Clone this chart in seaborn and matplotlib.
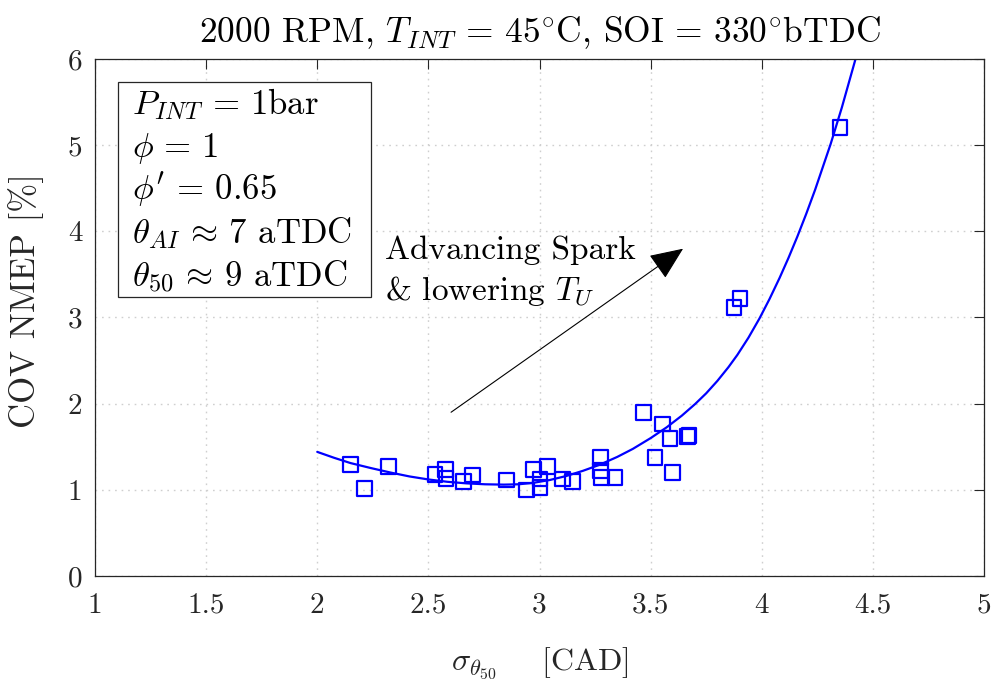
import matplotlib
matplotlib.use("Agg")
import matplotlib.pyplot as plt
from matplotlib.patches import Rectangle
import seaborn as sns

# ---- data ----
sigma_theta50 = [2.150, 2.212, 2.320, 2.530, 2.578, 2.579, 2.657, 2.698, 2.852,
                 2.942, 2.972, 3.002, 3.002, 3.035, 3.104, 3.149, 3.275, 3.275,
                 3.280, 3.340, 3.467, 3.554, 3.587, 3.665, 3.673, 3.520, 3.598,
                 3.875, 3.902, 4.352]
cov_nmep = [1.296, 1.018, 1.269, 1.180, 1.238, 1.134, 1.095, 1.172, 1.114,
            0.998, 1.238, 1.126, 1.029, 1.269, 1.126, 1.095, 1.377, 1.222,
            1.145, 1.145, 1.900, 1.764, 1.598, 1.617, 1.628, 1.373, 1.203,
            3.118, 3.222, 5.207]

# fitted curve
fit_x = [2.00, 2.075, 2.15, 2.24, 2.33, 2.415, 2.50, 2.585, 2.67, 2.755, 2.84,
         2.905, 2.97, 3.045, 3.12, 3.195, 3.27, 3.35, 3.42, 3.50, 3.572, 3.64,
         3.70, 3.75, 3.80, 3.85, 3.89, 3.94, 3.99, 4.035, 4.08, 4.12, 4.16,
         4.20, 4.24, 4.31, 4.36, 4.423]
fit_y = [1.44, 1.372, 1.31, 1.253, 1.20, 1.155, 1.12, 1.093, 1.075, 1.064, 1.06,
         1.064, 1.08, 1.113, 1.16, 1.22, 1.29, 1.382, 1.475, 1.60, 1.725, 1.86,
         1.995, 2.12, 2.263, 2.423, 2.565, 2.765, 2.99, 3.215, 3.458, 3.69,
         3.938, 4.202, 4.482, 5.014, 5.434, 6.01]

x_ticks = [1, 1.5, 2, 2.5, 3, 3.5, 4, 4.5, 5]
y_ticks = [0, 1, 2, 3, 4, 5, 6]

title_txt = r"2000 RPM, $T_{INT}\,=\,45^{\circ}$C, SOI$\,=\,330^{\circ}$bTDC"
xlabel_txt = r"$\sigma_{\theta_{50}}$    [CAD]"
ylabel_txt = "COV NMEP [%]"
box_lines = [r"$P_{INT}\,=\,1$bar", r"$\phi\,=\,1$", r"$\phi^{\prime}\,=\,0.65$",
             r"$\theta_{AI}\,\approx\,7$ aTDC", r"$\theta_{50}\,\approx\,9$ aTDC"]
annot_lines = ["Advancing Spark", r"& lowering $T_U$"]

# ---- style ----
sns.set_theme(style="white")
plt.rcParams["font.family"] = ["cmr10", "DejaVu Serif"]
plt.rcParams["mathtext.fontset"] = "cm"
plt.rcParams["axes.formatter.use_mathtext"] = True
plt.rcParams["axes.unicode_minus"] = False

BLUE = "#0000ff"
DARK = "#262626"

fig = plt.figure(figsize=(9.98, 6.83), dpi=100)
ax = fig.add_axes([0.0952, 0.1567, 0.8908, 0.7570])

sns.lineplot(x=fit_x, y=fit_y, ax=ax, color=BLUE, linewidth=1.6, sort=False,
             estimator=None)
sns.scatterplot(x=sigma_theta50, y=cov_nmep, ax=ax, marker="s", s=110,
                facecolor="none", edgecolor=BLUE, linewidth=1.6, zorder=3)

ax.set_xlim(1, 5)
ax.set_ylim(0, 6)
ax.set_xticks(x_ticks)
ax.set_yticks(y_ticks)
ax.set_xticklabels([f"{t:g}" for t in x_ticks])
ax.set_yticklabels([f"{t:g}" for t in y_ticks])

ax.grid(True, linestyle=(0, (1.2, 3.5)), color="#cfcfcf", linewidth=1.0)
ax.set_axisbelow(True)
for sp in ax.spines.values():
    sp.set_visible(True)
    sp.set_color(DARK)
    sp.set_linewidth(0.9)
ax.tick_params(direction="in", top=True, right=True, length=7, width=0.8,
               colors=DARK, labelsize=21)
ax.tick_params(axis="x", pad=12)
ax.tick_params(axis="y", pad=9)

ax.set_title(title_txt, fontsize=25.5, color="black", pad=12)
ax.set_xlabel(xlabel_txt, fontsize=23, color=DARK, labelpad=19)
ax.set_ylabel(ylabel_txt, fontsize=25, color=DARK)
ax.yaxis.set_label_coords(-0.057, 0.532)

# parameter box
ax.add_patch(Rectangle((0.0262, 0.540), 0.2843, 0.416, transform=ax.transAxes,
                       fill=True, facecolor="white", edgecolor=DARK,
                       linewidth=0.9, zorder=4))
for yb, line in zip([0.8936, 0.8104, 0.7292, 0.6441, 0.5590], box_lines):
    ax.text(0.0413, yb, line, transform=ax.transAxes, fontsize=25,
            va="baseline", ha="left", color="black", zorder=5)

# annotation
ax.annotate("", xy=(3.646, 3.798), xytext=(2.602, 1.90),
            arrowprops=dict(arrowstyle="-|>,head_length=0.7,head_width=0.3",
                            mutation_scale=30, color="black", lw=0.8,
                            shrinkA=0, shrinkB=0))
for yb, line in zip([3.675, 3.203], annot_lines):
    ax.text(2.305, yb, line, fontsize=24, va="baseline", ha="left",
            color="black")

fig.savefig("out.png", dpi=100)
